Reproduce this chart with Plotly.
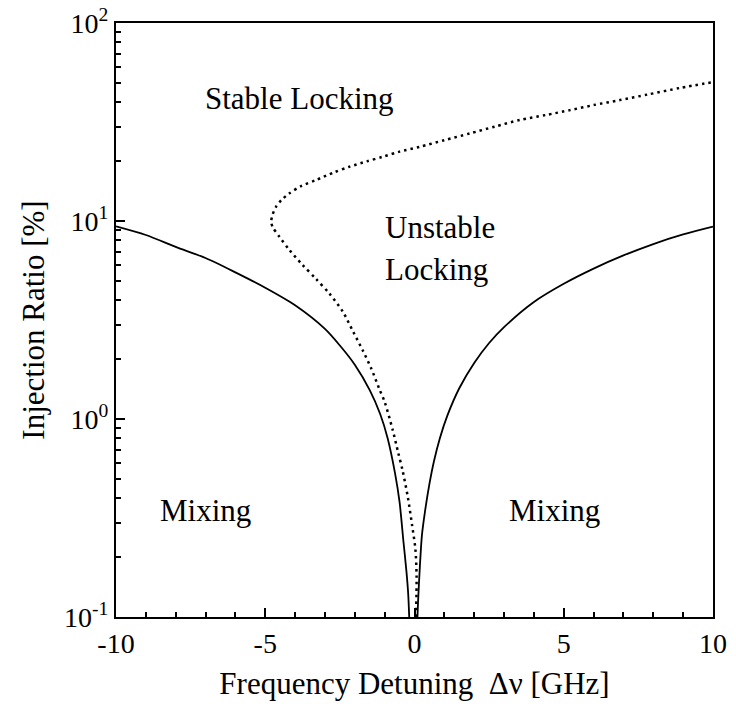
import plotly.graph_objects as go

# Locking boundary (solid): left and right branches, injection ratio in %
solid_left_x = [-10, -9, -8, -7, -6, -5, -4, -3, -2.5, -2, -1.5, -1.15, -0.9,
                -0.65, -0.5, -0.37, -0.27, -0.21, -0.16]
solid_left_y = [9.4, 8.5, 7.4, 6.5, 5.5, 4.6, 3.75, 2.85, 2.35, 1.88, 1.40, 1.06,
                0.80, 0.53, 0.38, 0.24, 0.17, 0.13, 0.085]
solid_right_x = [0.08, 0.12, 0.18, 0.25, 0.35, 0.5, 0.65, 0.85, 1.1, 1.5, 2, 2.5,
                 3, 4, 5, 6, 7, 8, 9, 10]
solid_right_y = [0.085, 0.12, 0.18, 0.26, 0.34, 0.47, 0.61, 0.80, 1.04, 1.43, 1.92,
                 2.42, 2.91, 3.90, 4.82, 5.75, 6.70, 7.65, 8.55, 9.36]

# Stability boundary (dotted), traced from the bottom around the turning point
dotted_x = [0.05, 0.07, 0.03, -0.08, -0.22, -0.40, -0.55, -0.73, -1.0, -1.18,
            -1.45, -1.74, -2.05, -2.41, -2.85, -3.30, -3.75, -4.19, -4.53, -4.75,
            -4.80, -4.76, -4.64, -4.45, -4.19, -3.8, -3.30, -2.7, -2.18, -1.6,
            -1.07, -0.5, 0.18, 1.0, 1.86, 2.7, 3.53, 4.4, 5.21, 6.0, 6.88, 7.8,
            8.9, 10]
dotted_y = [0.10, 0.16, 0.22, 0.29, 0.40, 0.55, 0.68, 0.88, 1.22, 1.42,
            1.80, 2.23, 2.75, 3.50, 4.3, 5.10, 6.0, 7.14, 8.34, 9.3,
            9.9, 10.7, 11.8, 12.8, 13.8, 15.0, 16.1, 17.6, 18.8, 20.0,
            21.1, 22.4, 23.7, 25.6, 27.7, 30.0, 32.4, 34.3, 36.3, 38.5, 40.8, 43.5,
            47.0, 50.3]

x_tick_vals = [-10, -5, 0, 5, 10]
x_tick_text = ["-10", "-5", "0", "5", "10"]
y_tick_vals = [0.1, 1, 10, 100]
y_tick_text = ["10<sup>-1</sup>", "10<sup>0</sup>", "10<sup>1</sup>", "10<sup>2</sup>"]

FONT = "Liberation Serif, Times New Roman, serif"

fig = go.Figure()
fig.add_trace(go.Scatter(x=solid_left_x, y=solid_left_y, mode="lines",
                         line=dict(color="black", width=1.8, shape="spline", smoothing=0.8),
                         showlegend=False))
fig.add_trace(go.Scatter(x=solid_right_x, y=solid_right_y, mode="lines",
                         line=dict(color="black", width=1.8, shape="spline", smoothing=0.8),
                         showlegend=False))
fig.add_trace(go.Scatter(x=dotted_x, y=dotted_y, mode="lines",
                         line=dict(color="black", width=2.5, dash="2.5px,4px",
                                   shape="spline", smoothing=0.8),
                         showlegend=False))

labels = [
    ("Stable Locking", -7.09, 1.621),
    ("Unstable", -1.06, 0.965),
    ("Locking", -1.06, 0.753),
    ("Mixing", -8.59, -0.46),
    ("Mixing", 3.10, -0.46),
]
for text, lx, ly in labels:
    fig.add_annotation(x=lx, y=ly, text=text, showarrow=False, xanchor="left",
                       yanchor="middle", font=dict(family=FONT, size=31, color="black"))

fig.update_xaxes(
    range=[-10, 10], tickvals=x_tick_vals, ticktext=x_tick_text,
    ticks="inside", ticklen=9, tickwidth=1.5, tickcolor="black",
    minor=dict(dtick=1, ticks="inside", ticklen=5, tickwidth=1.5, tickcolor="black"),
    showline=True, linecolor="black", linewidth=2, mirror=True,
    showgrid=False, zeroline=False,
    tickfont=dict(family=FONT, size=28, color="black"),
    title=dict(text="Frequency Detuning  \u0394\u03bd [GHz]",
               font=dict(family=FONT, size=31, color="black"), standoff=15),
)
fig.update_yaxes(
    type="log", range=[-1, 2], tickvals=y_tick_vals, ticktext=y_tick_text,
    ticks="inside", ticklen=9, tickwidth=1.5, tickcolor="black",
    minor=dict(dtick="D1", ticks="inside", ticklen=5, tickwidth=1.5, tickcolor="black"),
    showline=True, linecolor="black", linewidth=2, mirror=True,
    showgrid=False, zeroline=False,
    tickfont=dict(family=FONT, size=28, color="black"),
    title=dict(text="Injection Ratio [%]",
               font=dict(family=FONT, size=31, color="black"), standoff=10),
)
fig.update_layout(
    width=736, height=704,
    margin=dict(l=116, r=23, t=23, b=87, autoexpand=False),
    paper_bgcolor="white", plot_bgcolor="white",
)
fig.write_html("out.html")
